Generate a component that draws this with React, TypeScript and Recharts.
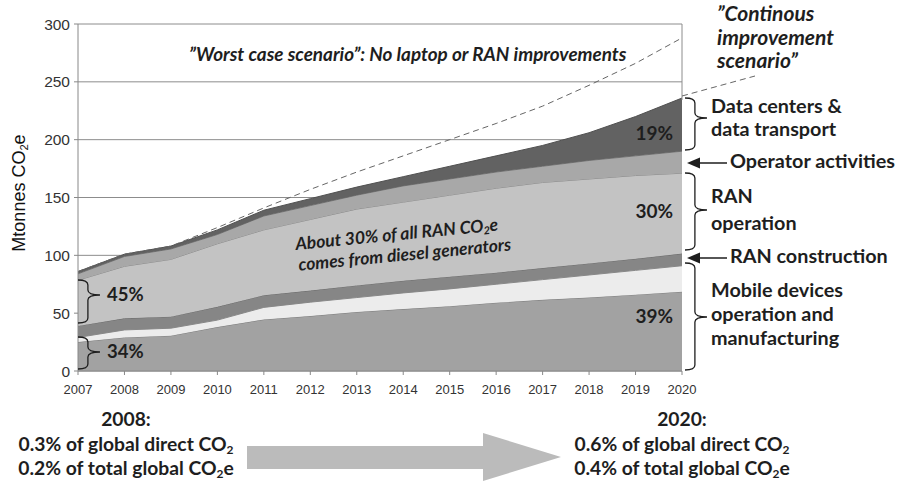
import { Area, CartesianGrid, ComposedChart, Line, XAxis, YAxis } from "recharts";

const YEARS = [2007, 2008, 2009, 2010, 2011, 2012, 2013, 2014, 2015, 2016, 2017, 2018, 2019, 2020];
// stacked layer thicknesses, Mtonnes CO2e
const MOBILE_OPERATION = [25, 29, 30.5, 38, 44.5, 47.5, 51, 53.5, 56, 59, 61.5, 63.5, 66, 68.5];
const MOBILE_MANUFACTURING = [4, 6.5, 6.5, 6, 10.5, 12, 12.5, 14, 15, 16, 17.5, 19.5, 21, 22.5];
const RAN_CONSTRUCTION = [10, 10, 10, 11.5, 10.5, 10, 10.5, 10.5, 10.5, 10, 10, 10, 10, 10.5];
const RAN_OPERATION = [39.5, 45, 49.5, 54.5, 56.5, 61.5, 66, 68, 70.5, 73, 74, 73, 72, 69.5];
const OPERATOR_ACTIVITIES = [5.5, 8.5, 9, 8, 12, 12, 12, 14, 14, 14, 14, 16, 17, 19];
const DATA_CENTERS = [2, 2, 2.5, 4, 5, 6, 7, 8, 11, 14, 18, 24, 34, 46];
// worst case total (no laptop or RAN improvements)
const WORST_CASE = [86, 101, 108, 124, 141, 157, 172, 186, 200, 214, 229, 247, 266, 288];
const Y_TICKS = [0, 50, 100, 150, 200, 250, 300];

const data = YEARS.map((year, i) => ({
  year,
  mobileOp: MOBILE_OPERATION[i],
  mobileMfg: MOBILE_MANUFACTURING[i],
  ranCon: RAN_CONSTRUCTION[i],
  ranOp: RAN_OPERATION[i],
  operator: OPERATOR_ACTIVITIES[i],
  dataCenters: DATA_CENTERS[i],
  worst: WORST_CASE[i],
}));

const LAYERS = [
  { key: "mobileOp", fill: "#a2a2a2", stroke: "#7a7a7a" },
  { key: "mobileMfg", fill: "#ececec", stroke: "#8a8a8a" },
  { key: "ranCon", fill: "#868686", stroke: "#6a6a6a" },
  { key: "ranOp", fill: "#c3c3c3", stroke: "#8a8a8a" },
  { key: "operator", fill: "#a8a8a8", stroke: "#7a7a7a" },
  { key: "dataCenters", fill: "#626262", stroke: "#505050" },
];

const NOTE = "Lato, 'Open Sans', sans-serif";
const INK = "#1e1e1e";

function brace(x: number, y1: number, y2: number, tipY: number, w: number) {
  const xm = x + w * 0.45;
  const xt = x + w;
  const r = 5;
  return `M${x},${y1} Q${xm},${y1} ${xm},${y1 + r} L${xm},${tipY - r} Q${xm},${tipY} ${xt},${tipY} Q${xm},${tipY} ${xm},${tipY + r} L${xm},${y2 - r} Q${xm},${y2} ${x},${y2}`;
}

function arrowLeft(tipX: number, y: number, endX: number) {
  return (
    <g>
      <line x1={tipX + 10} y1={y} x2={endX} y2={y} stroke={INK} strokeWidth={1.5} />
      <polygon points={`${tipX},${y} ${tipX + 13},${y - 5.5} ${tipX + 13},${y + 5.5}`} fill={INK} />
    </g>
  );
}

// subscript followed by optional normal text
function Sub({ s, after }: { s: string; after?: string }) {
  return (
    <>
      <tspan dy={2.5} fontSize="0.62em">{s}</tspan>
      {after ? <tspan dy={-2.5}>{after}</tspan> : null}
    </>
  );
}

export default function App() {
  return (
    <div style={{ position: "absolute", left: 0, top: 0, width: 903, height: 482, background: "#fff", fontFamily: "'Liberation Sans', Arial, sans-serif" }}>
      <ComposedChart width={903} height={482} data={data} margin={{ top: 24, right: 221, bottom: 81, left: 0 }}>
        <CartesianGrid vertical={false} stroke="#8c8c8c" strokeWidth={1} />
        <XAxis
          dataKey="year"
          type="number"
          domain={[2007, 2020]}
          ticks={YEARS}
          height={30}
          tickSize={4}
          tickMargin={10}
          stroke="#888"
          tick={{ fill: "#333", fontSize: 13 }}
        />
        <YAxis
          domain={[0, 300]}
          ticks={Y_TICKS}
          width={78}
          tickSize={4}
          tickMargin={4}
          stroke="#888"
          tick={{ fill: "#333", fontSize: 15.5 }}
        />
        {LAYERS.map((l) => (
          <Area
            key={l.key}
            dataKey={l.key}
            stackId="total"
            type="linear"
            fill={l.fill}
            fillOpacity={1}
            stroke={l.stroke}
            strokeWidth={1}
            isAnimationActive={false}
          />
        ))}
        <Line
          dataKey="worst"
          type="linear"
          stroke="#666"
          strokeWidth={1}
          strokeDasharray="6 4"
          dot={false}
          activeDot={false}
          isAnimationActive={false}
        />
      </ComposedChart>

      <svg width={903} height={482} style={{ position: "absolute", left: 0, top: 0, pointerEvents: "none" }}>
        <line x1={682} y1={24} x2={682} y2={100} stroke="#8c8c8c" strokeWidth={1} />
        <line x1={682} y1={96} x2={755} y2={76} stroke="#666" strokeWidth={1} strokeDasharray="6 4" />

        <text transform="translate(25,193) rotate(-90)" textAnchor="middle" fontSize={18} fill="#111" fontFamily="'Liberation Sans', Arial, sans-serif">
          Mtonnes CO<Sub s="2" after="e" />
        </text>

        <g fontFamily={NOTE} fill={INK} fontWeight={700}>
          <text x={189} y={61} fontSize={18.9} fontStyle="italic">”Worst case scenario”: No laptop or RAN improvements</text>
          <g fontStyle="italic" fontSize={21}>
            <text x={717} y={21}>”Continous</text>
            <text x={717} y={45}>improvement</text>
            <text x={717} y={68}>scenario”</text>
          </g>

          <g transform="rotate(-5.5 400 248)" fontStyle="italic" fontSize={17.5} textAnchor="middle">
            <text x={398} y={240}>About 30% of all RAN CO<Sub s="2" after="e" /></text>
            <text x={404} y={261}>comes from diesel generators</text>
          </g>

          <g fontSize={19} textAnchor="end">
            <text x={673} y={140}>19%</text>
            <text x={673} y={218}>30%</text>
            <text x={673} y={323}>39%</text>
          </g>
          <g fontSize={18.5}>
            <text x={107} y={301}>45%</text>
            <text x={107} y={358}>34%</text>
          </g>

          <g fontSize={19.8}>
            <text x={711} y={113}>Data centers &amp;</text>
            <text x={711} y={136}>data transport</text>
            <text x={730} y={168}>Operator activities</text>
            <text x={711} y={203}>RAN</text>
            <text x={711} y={230}>operation</text>
            <text x={730} y={263}>RAN construction</text>
            <text x={711} y={297}>Mobile devices</text>
            <text x={711} y={321}>operation and</text>
            <text x={711} y={345}>manufacturing</text>
          </g>

          <g fontSize={19.3} textAnchor="middle">
            <text x={126} y={426}>2008:</text>
            <text x={126} y={451}>0.3% of global direct CO<Sub s="2" /></text>
            <text x={126} y={475}>0.2% of total global CO<Sub s="2" after="e" /></text>
            <text x={682} y={426}>2020:</text>
            <text x={682} y={451}>0.6% of global direct CO<Sub s="2" /></text>
            <text x={682} y={475}>0.4% of total global CO<Sub s="2" after="e" /></text>
          </g>
        </g>

        <g fill="none" stroke={INK} strokeWidth={1.3}>
          <path d={brace(685, 98, 150, 118, 22)} />
          <path d={brace(685, 173, 250, 210, 22)} />
          <path d={brace(685, 263, 370, 317, 22)} />
          <path d={brace(78, 280, 323, 295, 22)} />
          <path d={brace(78, 337, 369, 352, 22)} />
        </g>
        {arrowLeft(687, 163, 727)}
        {arrowLeft(687, 258, 727)}

        <polygon points="247,446 483,446 483,433 561,457 483,481 483,469 247,469" fill="#bbbbbb" />
      </svg>
    </div>
  );
}
